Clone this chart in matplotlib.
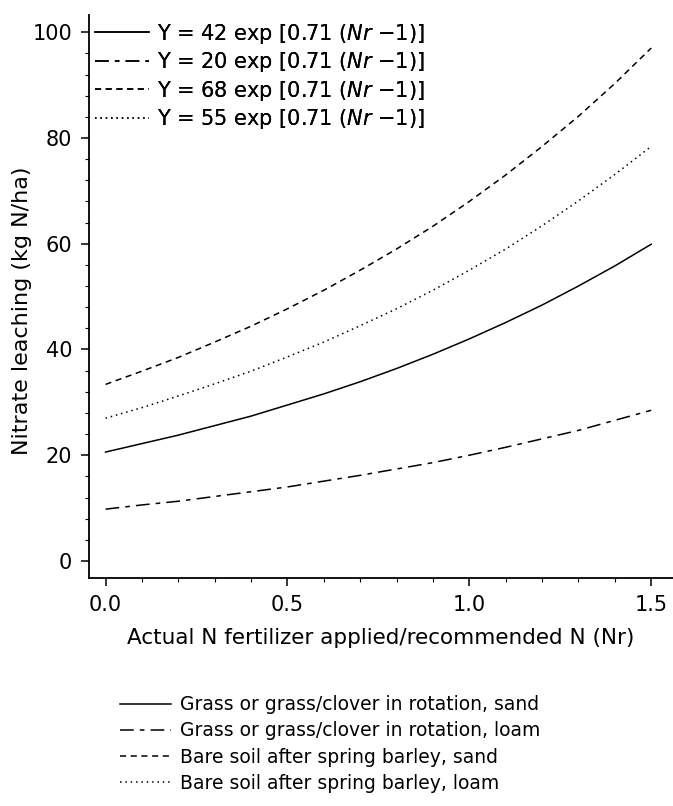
import matplotlib
matplotlib.use("Agg")
import matplotlib.pyplot as plt
import numpy as np
from matplotlib.ticker import MultipleLocator

# Nr values and leaching (kg N/ha)
nr = [0.0, 0.1, 0.2, 0.3, 0.4, 0.5, 0.6, 0.7, 0.8, 0.9, 1.0, 1.1, 1.2, 1.3, 1.4, 1.5]
grass_sand = [20.6, 22.2, 23.8, 25.6, 27.4, 29.5, 31.6, 33.9, 36.4, 39.1, 42.0, 45.1, 48.4, 52.0, 55.8, 59.9]
grass_loam = [9.8, 10.6, 11.3, 12.2, 13.1, 14.0, 15.1, 16.2, 17.4, 18.6, 20.0, 21.5, 23.1, 24.7, 26.6, 28.5]
bare_sand = [33.4, 35.9, 38.5, 41.4, 44.4, 47.7, 51.2, 55.0, 59.0, 63.3, 68.0, 73.0, 78.4, 84.1, 90.3, 97.0]
bare_loam = [27.0, 29.0, 31.2, 33.5, 35.9, 38.6, 41.4, 44.5, 47.7, 51.2, 55.0, 59.0, 63.4, 68.1, 73.1, 78.4]

coefs = ['42', '20', '68', '55']
names = ['Grass or grass/clover in rotation, sand',
         'Grass or grass/clover in rotation, loam',
         'Bare soil after spring barley, sand',
         'Bare soil after spring barley, loam']

plt.rcParams['font.family'] = ['DejaVu Sans']
plt.rcParams['mathtext.fontset'] = 'dejavusans'

fig = plt.figure(figsize=(6.73, 8.06), dpi=100)
ax = fig.add_axes([0.132, 0.283, 0.868, 0.698])

styles = [dict(linestyle='-'),
          dict(linestyle=(0, (9, 4, 3, 4))),
          dict(linestyle=(0, (4, 3))),
          dict(linestyle=(0, (1, 2.5)))]
series = [grass_sand, grass_loam, bare_sand, bare_loam]

lines = []
for ys, st in zip(series, styles):
    ln, = ax.plot(nr, ys, color='black', lw=1.1, **st)
    lines.append(ln)

ax.set_xlim(-0.046, 1.56)
ax.set_ylim(-3.2, 103.2)
ax.spines['top'].set_visible(False)
ax.spines['right'].set_visible(False)
ax.spines['left'].set_linewidth(1.3)
ax.spines['bottom'].set_linewidth(1.3)

ax.set_xticks([0.0, 0.5, 1.0, 1.5])
ax.set_xticklabels(['0.0', '0.5', '1.0', '1.5'])
ax.set_yticks([0, 20, 40, 60, 80, 100])
ax.xaxis.set_minor_locator(MultipleLocator(0.1))
ax.yaxis.set_minor_locator(MultipleLocator(4))
ax.tick_params(axis='both', which='major', direction='out', length=6, width=1.1,
               labelsize=15, pad=6)
ax.tick_params(axis='both', which='minor', direction='out', length=3, width=0.8)

ax.set_xlabel('Actual N fertilizer applied/recommended N (Nr)', fontsize=15.5)
ax.xaxis.set_label_coords(0.5, -0.089)
ax.set_ylabel('Nitrate leaching (kg N/ha)', fontsize=16)
ax.yaxis.set_label_coords(-0.098, 0.474)

eq_labels = [r'Y = %s exp [0.71 ($\mathit{Nr}$ −1)]' % c for c in coefs]
leg = ax.legend(lines, eq_labels, loc='upper left', bbox_to_anchor=(0.0, 1.0),
                frameon=False, fontsize=15, handlelength=2.6, handletextpad=0.35,
                labelspacing=0.22, borderaxespad=0.3, borderpad=0.0)
ax.add_artist(leg)

fig.legend(lines, names, loc='upper left', bbox_to_anchor=(0.165, 0.149),
           frameon=False, fontsize=13.5, handlelength=2.7, handletextpad=0.5,
           labelspacing=0.38, borderpad=0.0)

fig.savefig('out.png', dpi=100)
